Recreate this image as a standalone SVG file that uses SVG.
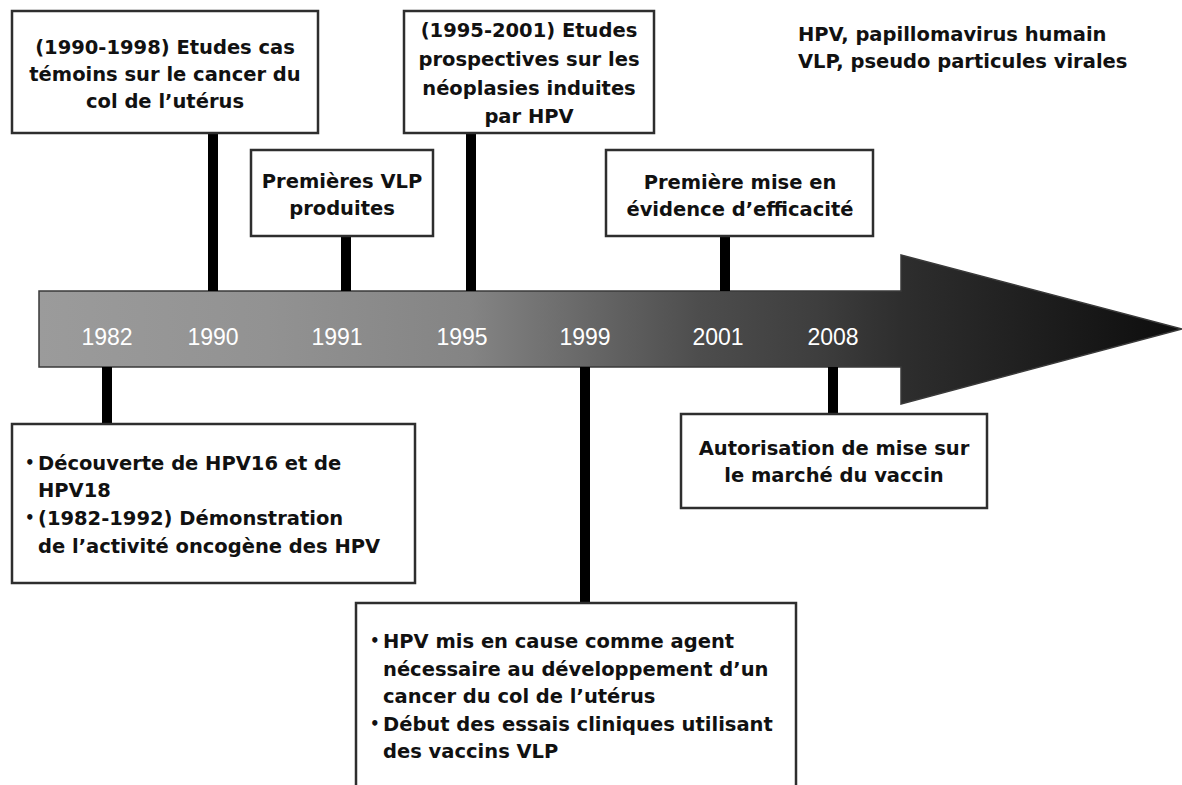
<svg xmlns="http://www.w3.org/2000/svg" width="1182" height="785" viewBox="0 0 1182 785">
  <style>
    .box { fill: #ffffff; stroke: #2e2e2e; stroke-width: 2.5; }
    .t { font-family: "DejaVu Sans", "Liberation Sans", sans-serif; font-weight: bold; font-size: 19.5px; fill: #111111; }
    .c { text-anchor: middle; }
    .b { font-family: "DejaVu Sans", "Liberation Sans", sans-serif; font-weight: bold; font-size: 15px; fill: #111111; }
    .yr { font-family: "Liberation Sans", Arial, sans-serif; font-size: 23px; fill: #ffffff; text-anchor: middle; }
    .conn { stroke: #000000; stroke-width: 10; fill: none; }
  </style>
  <defs>
    <linearGradient id="arrowGrad" gradientUnits="userSpaceOnUse" x1="39" y1="0" x2="1182" y2="0">
      <stop offset="0" stop-color="#9b9b9b"/>
      <stop offset="0.2" stop-color="#929292"/>
      <stop offset="0.377" stop-color="#848484"/>
      <stop offset="0.456" stop-color="#6e6e6e"/>
      <stop offset="0.578" stop-color="#4d4d4d"/>
      <stop offset="0.68" stop-color="#3e3e3e"/>
      <stop offset="0.753" stop-color="#2e2e2e"/>
      <stop offset="1" stop-color="#0d0d0d"/>
    </linearGradient>
  </defs>
  <rect x="0" y="0" width="1182" height="785" fill="#ffffff"/>

  <!-- timeline arrow -->
  <g id="timeline">
    <polygon points="39,291 901,291 901,255 1182,329 901,404 901,367 39,367" fill="url(#arrowGrad)" stroke="#3a3a3a" stroke-width="1.5"/>
    <text class="yr" x="107" y="345">1982</text>
    <text class="yr" x="213" y="345">1990</text>
    <text class="yr" x="337" y="345">1991</text>
    <text class="yr" x="462" y="345">1995</text>
    <text class="yr" x="585" y="345">1999</text>
    <text class="yr" x="718" y="345">2001</text>
    <text class="yr" x="833" y="345">2008</text>
  </g>

  <!-- connectors -->
  <g id="connectors">
    <line class="conn" x1="213" y1="133" x2="213" y2="291"/>
    <line class="conn" x1="346" y1="236" x2="346" y2="291"/>
    <line class="conn" x1="471" y1="133" x2="471" y2="291"/>
    <line class="conn" x1="725" y1="236" x2="725" y2="291"/>
    <line class="conn" x1="107" y1="367" x2="107" y2="424"/>
    <line class="conn" x1="585" y1="367" x2="585" y2="603"/>
    <line class="conn" x1="833" y1="367" x2="833" y2="414"/>
  </g>

  <!-- legend -->
  <g id="legend">
    <text class="t" x="798" y="41" font-size="20.5">HPV, papillomavirus humain</text>
    <text class="t" x="798" y="68" font-size="20.5">VLP, pseudo particules virales</text>
  </g>

  <g id="node-1990">
    <rect class="box" x="12" y="11" width="306" height="122"/>
    <text class="t c" x="165" y="54">(1990-1998) Etudes cas</text>
    <text class="t c" x="165" y="81">témoins sur le cancer du</text>
    <text class="t c" x="165" y="108">col de l’utérus</text>
  </g>

  <g id="node-1991">
    <rect class="box" x="251" y="150" width="182" height="86"/>
    <text class="t c" x="342" y="188">Premières VLP</text>
    <text class="t c" x="342" y="215">produites</text>
  </g>

  <g id="node-1995">
    <rect class="box" x="404" y="11" width="250" height="122"/>
    <text class="t c" x="529" y="37">(1995-2001) Etudes</text>
    <text class="t c" x="529" y="66">prospectives sur les</text>
    <text class="t c" x="529" y="95">néoplasies induites</text>
    <text class="t c" x="529" y="123">par HPV</text>
  </g>

  <g id="node-2001">
    <rect class="box" x="606" y="150" width="267" height="86"/>
    <text class="t c" x="740" y="189">Première mise en</text>
    <text class="t c" x="740" y="216">évidence d’efficacité</text>
  </g>

  <g id="node-1982">
    <rect class="box" x="12" y="424" width="403" height="159"/>
    <text class="b" x="25" y="468">•</text>
    <text class="t" x="38" y="470">Découverte de HPV16 et de</text>
    <text class="t" x="38" y="497">HPV18</text>
    <text class="b" x="25" y="523">•</text>
    <text class="t" x="38" y="525">(1982-1992) Démonstration</text>
    <text class="t" x="38" y="553">de l’activité oncogène des HPV</text>
  </g>

  <g id="node-1999">
    <rect class="box" x="356" y="603" width="440" height="190"/>
    <text class="b" x="370" y="646">•</text>
    <text class="t" x="383" y="648">HPV mis en cause comme agent</text>
    <text class="t" x="383" y="676">nécessaire au développement d’un</text>
    <text class="t" x="383" y="703">cancer du col de l’utérus</text>
    <text class="b" x="370" y="729">•</text>
    <text class="t" x="383" y="731">Début des essais cliniques utilisant</text>
    <text class="t" x="383" y="758">des vaccins VLP</text>
  </g>

  <g id="node-2008">
    <rect class="box" x="681" y="414" width="306" height="94"/>
    <text class="t c" x="834" y="455">Autorisation de mise sur</text>
    <text class="t c" x="834" y="482">le marché du vaccin</text>
  </g>
</svg>
